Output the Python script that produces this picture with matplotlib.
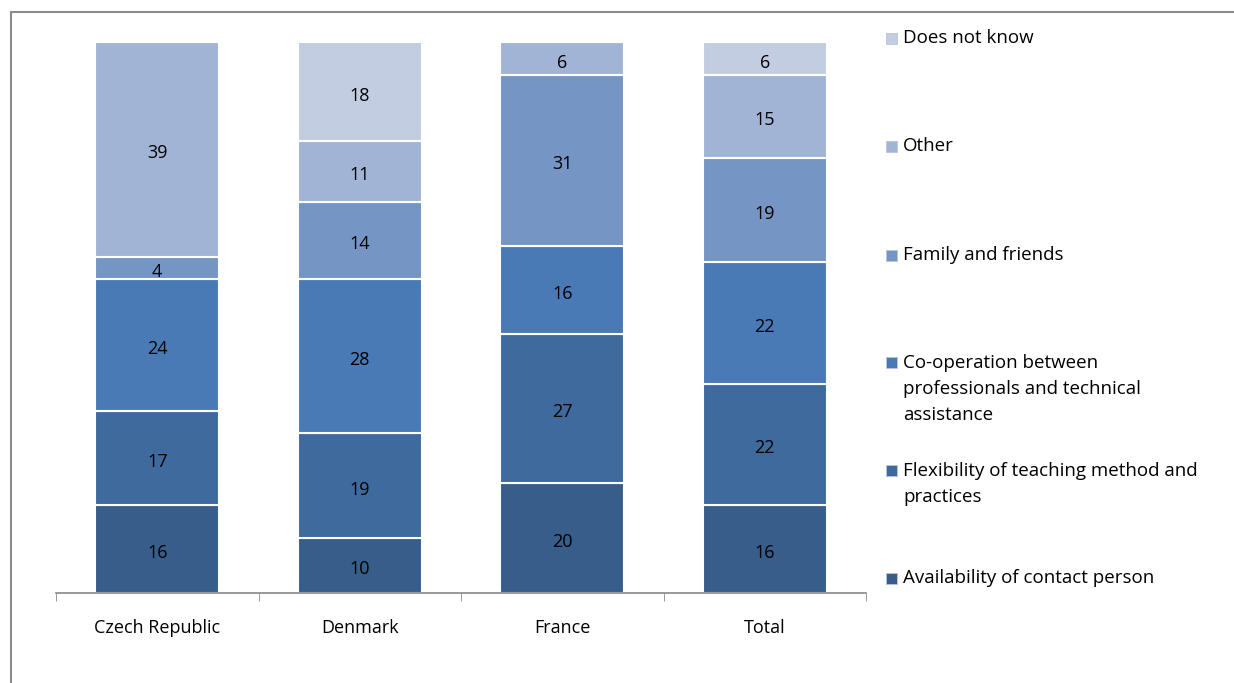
import matplotlib.pyplot as plt
import matplotlib.patches as mpatches
import numpy as np

# survey shares per country, in percent
countries = ["Czech Republic", "Denmark", "France", "Total"]
series = [
    "Availability of contact person",
    "Flexibility of teaching method and\npractices",
    "Co-operation between\nprofessionals and technical\nassistance",
    "Family and friends",
    "Other",
    "Does not know",
]
availability = [16, 10, 20, 16]
flexibility = [17, 19, 27, 22]
cooperation = [24, 28, 16, 22]
family = [4, 14, 31, 19]
other = [39, 11, 6, 15]
dont_know = [0, 18, 0, 6]

values = [availability, flexibility, cooperation, family, other, dont_know]
colors = ["#375d8a", "#3f6a9e", "#4a7ab6", "#7595c5", "#a2b4d6", "#c3cde2"]

plt.rcParams['font.family'] = ['Open Sans', 'DejaVu Sans']

fig = plt.figure(figsize=(12.34, 6.83), dpi=100)
ax = fig.add_axes([56 / 1234, 1 - 593 / 683, 810 / 1234, 551 / 683])

x = np.arange(len(countries))
bottom = np.zeros(len(countries))
for vals, col in zip(values, colors):
    vals = np.array(vals, dtype=float)
    ax.bar(x, vals, 0.61, bottom=bottom, color=col, edgecolor="white", linewidth=1.5)
    for xi, v, b in zip(x, vals, bottom):
        if v > 0:
            ax.annotate(f"{int(v)}", (xi, b + v / 2), xytext=(0, -4), textcoords="offset pixels",
                        ha="center", va="center", fontsize=13, color="black")
    bottom += vals

ax.set_xlim(-0.5, len(countries) - 0.5)
ax.set_ylim(0, 100)
ax.set_yticks([])
ax.set_xticks(x)
ax.set_xticklabels(countries, fontsize=13)
ax.tick_params(axis="x", which="major", length=0, pad=19)
ax.set_xticks(np.arange(len(countries) + 1) - 0.5, minor=True)
ax.tick_params(axis="x", which="minor", length=6, color="#888888", direction="out")
for side in ["top", "right", "left"]:
    ax.spines[side].set_visible(False)
ax.spines["bottom"].set_color("#888888")
ax.spines["bottom"].set_linewidth(1.2)

# legend entries placed down the right side
legend_y = [38, 146, 255, 362, 470, 578]
for name, col, ly in zip(series[::-1], colors[::-1], legend_y):
    yf = 1 - ly / 683
    fig.patches.append(mpatches.Rectangle((886 / 1234, yf - 6 / 683), 11 / 1234, 11 / 683,
                                          transform=fig.transFigure, facecolor=col,
                                          edgecolor="#b8c4dc", linewidth=0.6))
    if "\n" in name:
        fig.text(903 / 1234, yf + 8 / 683, name, ha="left", va="top",
                 fontsize=13.5, linespacing=1.58, transform=fig.transFigure)
    else:
        fig.text(903 / 1234, yf, name, ha="left", va="center",
                 fontsize=13.5, transform=fig.transFigure)

# outer chart frame
fig.patches.append(mpatches.Rectangle((11 / 1234, -0.1), 1.2, 1 - 12 / 683 + 0.1,
                                      transform=fig.transFigure, fill=False,
                                      edgecolor="#8c8c8c", linewidth=1.5))

fig.savefig("out.png", dpi=100)
